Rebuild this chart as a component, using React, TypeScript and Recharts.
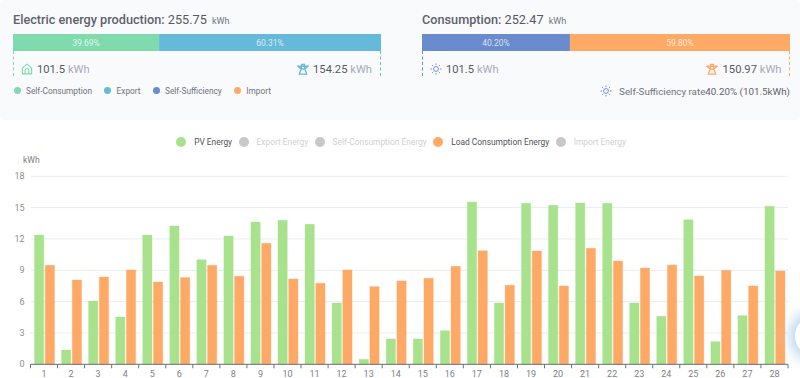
// App.tsx - monthly PV / load energy dashboard panel
import { BarChart, Bar, XAxis, YAxis, CartesianGrid, Legend, LabelList } from "recharts";

const DAYS = Array.from({ length: 28 }, (_, i) => String(i + 1));
const PV_ENERGY = [
  12.38, 1.37, 6.06, 4.53, 12.38, 13.25, 10.02, 12.29, 13.63, 13.79, 13.4, 5.87, 0.48, 2.43,
  2.43, 3.22, 15.54, 5.87, 15.42, 15.22, 15.45, 15.42, 5.87, 4.6, 13.85, 2.17, 4.66, 15.13,
];
const LOAD_ENERGY = [
  9.48, 8.07, 8.36, 9.03, 7.88, 8.3, 9.48, 8.43, 11.59, 8.17, 7.76, 9.03, 7.44, 7.98,
  8.23, 9.38, 10.88, 7.56, 10.85, 7.5, 11.1, 9.89, 9.22, 9.51, 8.46, 9.0, 7.5, 8.94,
];
const Y_TICKS = [0, 3, 6, 9, 12, 15, 18];
const PRODUCTION_SHARE = [39.69, 60.31];
const CONSUMPTION_SHARE = [40.2, 59.8];
const TOP_LEGEND = ["Self-Consumption", "Export", "Self-Sufficiency", "Import"];
const CHART_LEGEND = ["PV Energy", "Export Energy", "Self-Consumption Energy", "Load Consumption Energy", "Import Energy"];
const CHART_LEGEND_ON = ["PV Energy", "Load Consumption Energy"];

const GREEN = "#7fdbae";
const BLUE = "#66bad9";
const INDIGO = "#6a8bcd";
const ORANGE = "#ffa966";
const PV_GREEN = "#a9e28d";
const FONT = "Roboto, sans-serif";

const chartData = DAYS.map((day, i) => ({ day, pv: PV_ENERGY[i], load: LOAD_ENERGY[i] }));

const STEP = 757.5 / 28;

// ticks sit on the category boundaries, not under the bars
function DayTick({ x, y, payload, index }: any) {
  const top = y - 8;
  return (
    <g>
      <line x1={x - STEP / 2} x2={x - STEP / 2} y1={top} y2={top + 4} stroke="#6e7079" />
      {index === DAYS.length - 1 && (
        <line x1={x + STEP / 2} x2={x + STEP / 2} y1={top} y2={top + 4} stroke="#6e7079" />
      )}
      <text x={x} y={top + 12.5} textAnchor="middle" fontSize={9} fontFamily={FONT} fill="#7d8087">
        {payload.value}
      </text>
    </g>
  );
}

function SplitBar({ share, colors }: { share: number[]; colors: string[] }) {
  const row = [{ name: "share", a: share[0], b: share[1] }];
  const fmt = (v: any) => `${Number(v).toFixed(2)}%`;
  const style = { fontSize: 8.5, fontFamily: FONT, fill: "#ffffff", fillOpacity: 0.75 };
  return (
    <BarChart width={368} height={17} data={row} layout="vertical" margin={{ top: 0, right: 0, bottom: 0, left: 0 }} barCategoryGap={0}>
      <XAxis type="number" domain={[0, 100]} hide />
      <YAxis type="category" dataKey="name" hide />
      <Bar dataKey="a" stackId="s" fill={colors[0]} isAnimationActive={false}>
        <LabelList dataKey="a" position="center" formatter={fmt} style={style} />
      </Bar>
      <Bar dataKey="b" stackId="s" fill={colors[1]} isAnimationActive={false}>
        <LabelList dataKey="b" position="center" formatter={fmt} style={style} />
      </Bar>
    </BarChart>
  );
}

function HomeIcon({ color }: { color: string }) {
  return (
    <svg width="12" height="12" viewBox="0 0 13 13" fill="none" stroke={color} strokeWidth="1.2">
      <path d="M1.5 5.5 L6.5 1.2 L11.5 5.5 V11.8 H1.5 Z" />
      <path d="M4.5 11.8 V8 a2 2 0 0 1 4 0 V11.8" />
    </svg>
  );
}

function TowerIcon({ color }: { color: string }) {
  return (
    <svg width="12" height="12" viewBox="0 0 13 13" fill="none" stroke={color} strokeWidth="1.4">
      <path d="M1 3.5 H12 L8.5 6.5 H4.5 Z M5 1.5 H8 L8.5 6.5 L10.5 12 H2.5 L4.5 6.5 Z" />
    </svg>
  );
}

function SunIcon({ color }: { color: string }) {
  return (
    <svg width="12" height="12" viewBox="0 0 13 13" fill="none" stroke={color} strokeWidth="1">
      <circle cx="6.5" cy="6.5" r="2.6" />
      <path d="M6.5 0.5 V2.3 M6.5 10.7 V12.5 M0.5 6.5 H2.3 M10.7 6.5 H12.5 M2.3 2.3 L3.5 3.5 M9.5 9.5 L10.7 10.7 M2.3 10.7 L3.5 9.5 M9.5 3.5 L10.7 2.3" />
    </svg>
  );
}

function Amount({ value, icon, style }: { value: string; icon: React.ReactNode; style: React.CSSProperties }) {
  return (
    <div style={{ position: "absolute", top: 62, display: "flex", alignItems: "center", gap: 4.5, fontSize: 11.2, color: "#555a63", whiteSpace: "nowrap", height: 14, ...style }}>
      {icon}
      <span>
        {value} <span style={{ color: "#a5abb8" }}>kWh</span>
      </span>
    </div>
  );
}

function Heading({ label, value, left }: { label: string; value: string; left: number }) {
  return (
    <div style={{ position: "absolute", left, top: 12, fontSize: 12.7, color: "#5d626d", whiteSpace: "nowrap" }}>
      <span style={{ fontWeight: 500 }}>{label}:</span> <span style={{ color: "#565b65" }}>{value}</span>{" "}
      <span style={{ fontSize: 9, color: "#6e7480", marginLeft: 2 }}>kWh</span>
    </div>
  );
}

function Dash({ left, color }: { left: number; color: string }) {
  return <div style={{ position: "absolute", left, top: 51, height: 25, borderLeft: `1px dashed ${color}` }} />;
}

function ChartLegend() {
  return (
    <div style={{ display: "flex", justifyContent: "center", gap: 6.5, fontSize: 8.4, fontFamily: FONT, height: 12, alignItems: "center", paddingLeft: 2 }}>
      {CHART_LEGEND.map((name) => {
        const on = CHART_LEGEND_ON.includes(name);
        const dot = !on ? "#c8c8c8" : name === "PV Energy" ? PV_GREEN : ORANGE;
        return (
          <span key={name} style={{ display: "flex", alignItems: "center", gap: 8, color: on ? "#4f535b" : "#cfd1d4" }}>
            <span style={{ width: 10, height: 10, borderRadius: 5, background: dot }} />
            {name}
          </span>
        );
      })}
    </div>
  );
}

export default function App() {
  const legendColors = [GREEN, BLUE, INDIGO, ORANGE];
  return (
    <div style={{ position: "fixed", left: 0, top: 0, width: 800, height: 378, overflow: "hidden", background: "#fff", fontFamily: FONT }}>
      <div style={{ position: "absolute", left: 0, top: 0, width: 800, height: 120, background: "#f9fafc", borderRadius: 4 }} />

      <Heading label="Electric energy production" value="255.75" left={13} />
      <div style={{ position: "absolute", left: 13, top: 33.5 }}>
        <SplitBar share={PRODUCTION_SHARE} colors={[GREEN, BLUE]} />
      </div>
      <Dash left={13} color={GREEN} />
      <Dash left={380} color={BLUE} />
      <Amount value="101.5" icon={<HomeIcon color={GREEN} />} style={{ left: 20.5 }} />
      <Amount value="154.25" icon={<TowerIcon color={BLUE} />} style={{ right: 428 }} />
      <div style={{ position: "absolute", left: 13.5, top: 85.5, display: "flex", gap: 12, fontSize: 8.3, color: "#6f747e" }}>
        {TOP_LEGEND.map((name, i) => (
          <span key={name} style={{ display: "flex", alignItems: "center", gap: 5.5 }}>
            <span style={{ width: 7, height: 7, borderRadius: 4, background: legendColors[i] }} />
            {name}
          </span>
        ))}
      </div>

      <Heading label="Consumption" value="252.47" left={422} />
      <div style={{ position: "absolute", left: 422, top: 33.5 }}>
        <SplitBar share={CONSUMPTION_SHARE} colors={[INDIGO, ORANGE]} />
      </div>
      <Dash left={422} color={INDIGO} />
      <Dash left={789} color={ORANGE} />
      <Amount value="101.5" icon={<SunIcon color={INDIGO} />} style={{ left: 429.5 }} />
      <Amount value="150.97" icon={<TowerIcon color={ORANGE} />} style={{ right: 18.5 }} />
      <div style={{ position: "absolute", right: 10, top: 85, display: "flex", alignItems: "center", gap: 7, fontSize: 9.8, color: "#6f747e", whiteSpace: "nowrap" }}>
        <SunIcon color={INDIGO} />
        <span>
          Self-Sufficiency rate<span style={{ color: "#5d626d" }}>40.20% (101.5kWh)</span>
        </span>
      </div>

      <div style={{ position: "absolute", left: 23, top: 155, fontSize: 8.6, color: "#7d8087" }}>kWh</div>
      <div style={{ position: "absolute", left: 0, top: 120 }}>
        <BarChart
          width={800}
          height={258}
          data={chartData}
          margin={{ top: 44.3, right: 12, bottom: 0, left: 0.5 }}
          barSize={9.3}
          barGap={1.4}
        >
          <CartesianGrid horizontal vertical={false} stroke="#e9edf4" />
          <XAxis dataKey="day" height={13.7} interval={0} axisLine={{ stroke: "#6e7079" }} tickLine={false} tick={DayTick} />
          <YAxis
            width={30}
            domain={[0, 18]}
            ticks={Y_TICKS}
            axisLine={false}
            tickLine={false}
            tickMargin={0}
            tick={{ fontSize: 9, fontFamily: FONT, fill: "#8b8e95" }}
          />
          <Legend verticalAlign="top" content={ChartLegend} wrapperStyle={{ top: 16, left: 0, width: 800 }} />
          <Bar dataKey="pv" name="PV Energy" fill={PV_GREEN} stroke="#a9e28d55" isAnimationActive={false} />
          <Bar dataKey="load" name="Load Consumption Energy" fill={ORANGE} stroke="#ffa96655" isAnimationActive={false} />
        </BarChart>
      </div>

      {/* floating help button, cut off by the page edge */}
      <div style={{ position: "absolute", left: 795, top: 316, width: 40, height: 40, borderRadius: 20, background: "#fff", boxShadow: "0 0 14px 5px #b9d3f2" }} />
    </div>
  );
}
